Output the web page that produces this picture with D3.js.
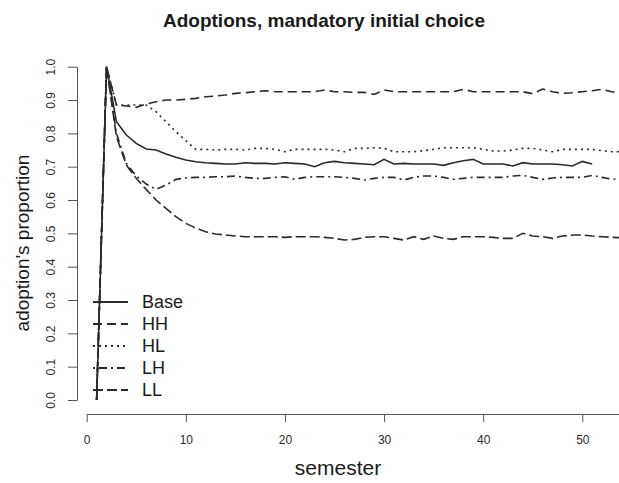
<!DOCTYPE html>
<html>
<head>
<meta charset="utf-8">
<script src="https://cdn.jsdelivr.net/npm/d3@7/dist/d3.min.js"></script>
<style>
  html, body { margin: 0; padding: 0; background: #fff; }
  svg { display: block; font-family: "Liberation Sans", Arial, sans-serif; }
</style>
</head>
<body>
<svg id="chart" width="619" height="483"></svg>
<script>
// ---- data ----
const semesters = d3.range(1, 55); // 1..54
const seriesNames = ["Base", "HH", "HL", "LH", "LL"];
const baseVals = [0, 1.0, 0.835, 0.795, 0.77, 0.753, 0.75, 0.738, 0.728, 0.72,
  0.715, 0.712, 0.71, 0.708, 0.708, 0.712, 0.71, 0.71, 0.708, 0.712,
  0.71, 0.708, 0.70, 0.712, 0.716, 0.712, 0.71, 0.708, 0.706, 0.722,
  0.708, 0.71, 0.708, 0.708, 0.708, 0.704, 0.712, 0.718, 0.722, 0.708,
  0.708, 0.708, 0.702, 0.712, 0.708, 0.708, 0.708, 0.706, 0.702, 0.716,
  0.708];
const hhVals = [0, 1.0, 0.885, 0.882, 0.878, 0.888, 0.895, 0.9, 0.9, 0.902,
  0.905, 0.91, 0.912, 0.915, 0.92, 0.922, 0.925, 0.928, 0.925, 0.925,
  0.925, 0.925, 0.925, 0.93, 0.925, 0.925, 0.923, 0.923, 0.917, 0.93,
  0.925, 0.925, 0.925, 0.925, 0.925, 0.925, 0.925, 0.932, 0.925, 0.925,
  0.925, 0.925, 0.925, 0.925, 0.919, 0.933, 0.925, 0.92, 0.922, 0.925,
  0.928, 0.932, 0.925, 0.92];
const hlVals = [0, 1.0, 0.885, 0.885, 0.885, 0.885, 0.865, 0.835, 0.805, 0.778,
  0.752, 0.752, 0.75, 0.752, 0.752, 0.75, 0.755, 0.755, 0.752, 0.745,
  0.752, 0.752, 0.752, 0.752, 0.75, 0.745, 0.755, 0.755, 0.757, 0.755,
  0.745, 0.745, 0.745, 0.748, 0.752, 0.757, 0.757, 0.757, 0.757, 0.752,
  0.747, 0.747, 0.75, 0.755, 0.755, 0.75, 0.745, 0.752, 0.752, 0.752,
  0.752, 0.748, 0.745, 0.745];
const lhVals = [0, 1.0, 0.8, 0.71, 0.672, 0.648, 0.632, 0.645, 0.662, 0.666,
  0.668, 0.668, 0.67, 0.67, 0.672, 0.668, 0.665, 0.665, 0.668, 0.67,
  0.662, 0.668, 0.67, 0.67, 0.67, 0.668, 0.665, 0.66, 0.665, 0.668,
  0.668, 0.66, 0.668, 0.672, 0.672, 0.668, 0.662, 0.665, 0.668, 0.668,
  0.668, 0.668, 0.672, 0.674, 0.668, 0.662, 0.666, 0.668, 0.668, 0.668,
  0.674, 0.668, 0.662, 0.665];
const llVals = [0, 1.0, 0.79, 0.705, 0.665, 0.632, 0.6, 0.575, 0.55, 0.53,
  0.516, 0.505, 0.498, 0.495, 0.492, 0.49, 0.49, 0.49, 0.49, 0.488,
  0.49, 0.49, 0.49, 0.488, 0.485, 0.48, 0.482, 0.488, 0.49, 0.49,
  0.485, 0.48, 0.49, 0.482, 0.492, 0.485, 0.482, 0.49, 0.49, 0.49,
  0.488, 0.485, 0.485, 0.5, 0.492, 0.49, 0.485, 0.492, 0.495, 0.495,
  0.492, 0.49, 0.488, 0.487];
const xTicks = [0, 10, 20, 30, 40, 50];
const yTicks = [0, 0.1, 0.2, 0.3, 0.4, 0.5, 0.6, 0.7, 0.8, 0.9, 1.0];
const titleText = "Adoptions, mandatory initial choice";
const xLabel = "semester";
const yLabel = "adoption's proportion";

// ---- styles ----
const dashes = { Base: null, HH: "9,5", HL: "2,4", LH: "2,4,8,4", LL: "10,4" };
const allVals = { Base: baseVals, HH: hhVals, HL: hlVals, LH: lhVals, LL: llVals };

const svg = d3.select("#chart");
const x = d3.scaleLinear().domain([0, 50]).range([86.7, 582.3]);
const y = d3.scaleLinear().domain([0, 1]).range([400, 66.7]);
const axisColor = "#555";
const lineColor = "#2a2a2a";
const textColor = "#1a1a1a";

svg.append("defs").append("clipPath").attr("id", "clip")
  .append("rect").attr("x", 76).attr("y", 50).attr("width", 543).attr("height", 364);

// title
svg.append("text").attr("x", 324).attr("y", 27).attr("text-anchor", "middle")
  .attr("font-size", 19).attr("font-weight", "bold").attr("fill", textColor).text(titleText);

// x axis (domain line runs off the right edge like the reference)
const xAxisScale = x.copy().domain([0, 56]).range([x(0), x(56)]);
const gx = svg.append("g").attr("transform", "translate(0,414)")
  .call(d3.axisBottom(xAxisScale).tickValues(xTicks).tickSize(8).tickSizeOuter(0).tickPadding(13).tickFormat(d3.format("d")));
gx.select(".domain").attr("stroke", axisColor);
gx.selectAll(".tick line").attr("stroke", axisColor);
gx.selectAll(".tick text").attr("font-size", 12).attr("fill", "#2a2a2a")
  .attr("font-family", "'Liberation Sans', Arial, sans-serif");

// y axis
const gy = svg.append("g").attr("transform", "translate(77,0)")
  .call(d3.axisLeft(y).tickValues(yTicks).tickSize(9).tickSizeOuter(0).tickFormat(d3.format(".1f")));
gy.select(".domain").attr("stroke", axisColor);
gy.selectAll(".tick line").attr("stroke", axisColor);
gy.selectAll(".tick text").attr("font-size", 12).attr("fill", "#2a2a2a")
  .attr("font-family", "'Liberation Sans', Arial, sans-serif")
  .attr("transform", "rotate(-90)").attr("text-anchor", "middle")
  .attr("x", 0).attr("y", -22).attr("dy", 0);

// axis titles
svg.append("text").attr("x", 338).attr("y", 475).attr("text-anchor", "middle")
  .attr("font-size", 21).attr("fill", textColor).text(xLabel);
svg.append("text").attr("transform", "translate(29,243) rotate(-90)").attr("text-anchor", "middle")
  .attr("font-size", 19).attr("fill", textColor).text(yLabel);

// series lines
const line = d3.line().x((d, i) => x(semesters[i])).y(d => y(d));
const gLines = svg.append("g").attr("clip-path", "url(#clip)");
seriesNames.forEach(name => {
  gLines.append("path").datum(allVals[name])
    .attr("d", line).attr("fill", "none")
    .attr("stroke", lineColor).attr("stroke-width", 1.6)
    .attr("stroke-dasharray", dashes[name]);
});

// legend
const legY = d3.scaleBand().domain(seriesNames).range([291, 401]);
const leg = svg.append("g");
seriesNames.forEach(name => {
  const cy = legY(name) + legY.bandwidth() / 2;
  leg.append("line").attr("x1", 93).attr("x2", 128).attr("y1", cy).attr("y2", cy)
    .attr("stroke", lineColor).attr("stroke-width", 2)
    .attr("stroke-dasharray", dashes[name]);
  leg.append("text").attr("x", 142).attr("y", cy).attr("dy", "0.36em")
    .attr("font-size", 18).attr("fill", textColor).text(name);
});
</script>
</body>
</html>
